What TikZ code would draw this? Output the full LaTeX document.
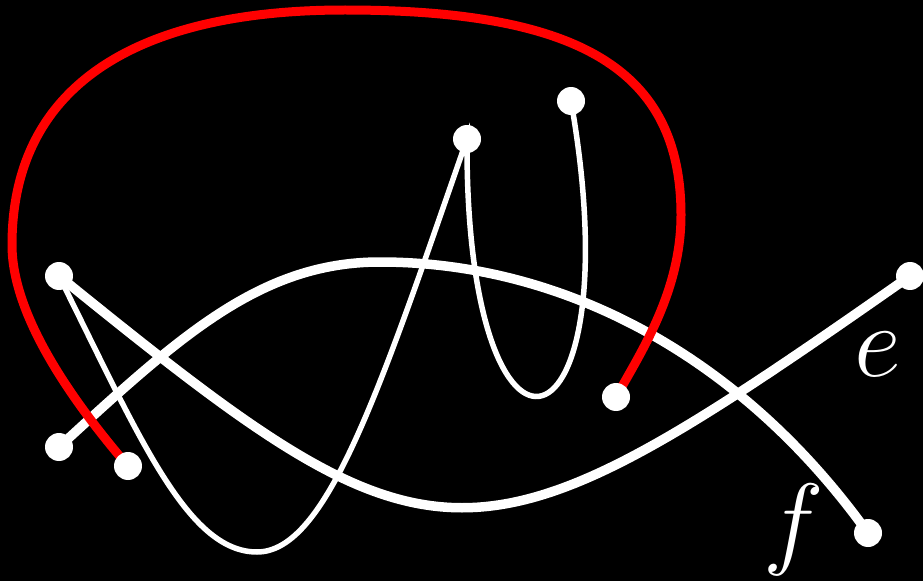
\documentclass[tikz,border=0pt]{standalone}
\usepackage{graphicx}
\usetikzlibrary{backgrounds}

\begin{document}
\begin{tikzpicture}[
    x=0.02cm, y=-0.02cm,
    dot/.style={circle, fill=white, inner sep=0pt, minimum size=0.56cm},
    wide/.style={white, line width=0.19cm},
    slim/.style={white, line width=0.11cm},
    loop/.style={red, line width=0.18cm},
    lbl/.style={white, inner sep=0pt}
]
\useasboundingbox (0,0) rectangle (923,581);

\node[dot] (a) at (59,276) {};
\node[dot] (b) at (59,447) {};
\node[dot] (c) at (128,466) {};
\node[dot] (d) at (467,139) {};
\node[dot] (u) at (571,101) {};
\node[dot] (p) at (616,397) {};
\node[dot] (g) at (910,276) {};
\node[dot] (h) at (868,533) {};
\node[lbl] (le) at (878,354) {\scalebox{2.35}{\Huge$e$}};
\node[lbl] (lf) at (794,530) {\scalebox{2.35}{\Huge$f$}};

\begin{scope}[on background layer]
\fill[black] (0,0) rectangle (923,581);
% the two thick arcs
\draw[wide] (a.center) .. controls (440,585) and (469,585) .. (g.center);
\draw[wide] (b.center) .. controls (179,337) and (260,262) .. (380,262)
    .. controls (560,262) and (739,353) .. (h.center);
% thin zigzag
\draw[slim] (a.center) .. controls (139,436) and (187,552) .. (257,552)
    .. controls (327,552) and (380,389) .. (d.center)
    .. controls (465,510) and (635,465) .. (u.center);
% red arc
\draw[loop] (c.center) .. controls (80,410) and (12,320) .. (12,245)
    .. controls (12,90) and (130,10) .. (345,10)
    .. controls (580,10) and (681,70) .. (681,215)
    .. controls (681,290) and (643,349) .. (p.center);
\end{scope}
\end{tikzpicture}
\end{document}
